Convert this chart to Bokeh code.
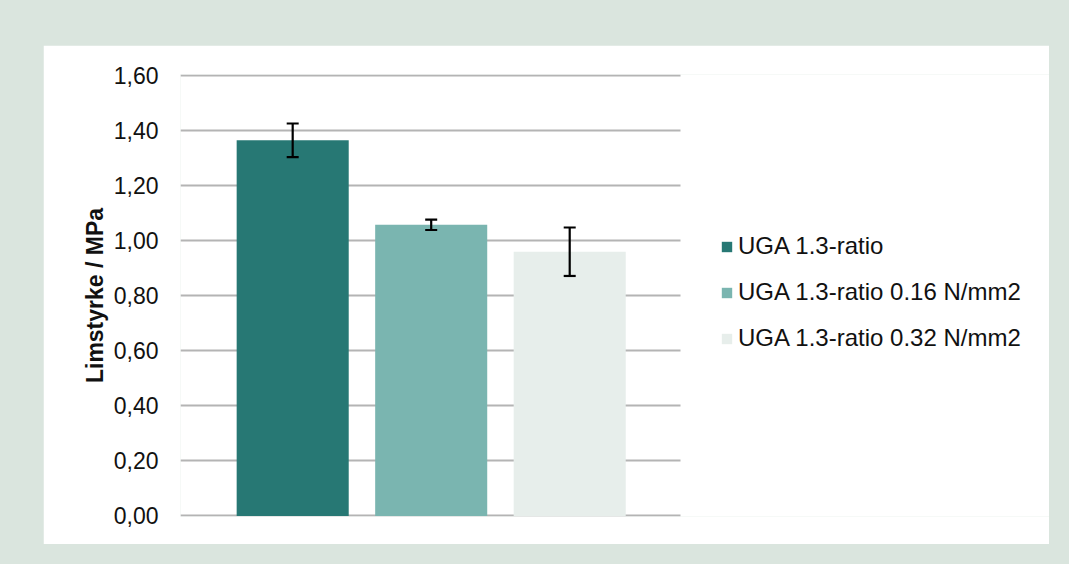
from bokeh.plotting import figure
from bokeh.models import (ColumnDataSource, Range1d, FixedTicker, CustomJSTickFormatter,
                          Whisker, TeeHead, Legend, LegendItem)
from bokeh.layouts import column
from bokeh.embed import file_html
from bokeh.resources import INLINE

# ---- data ----
series = ["UGA 1.3-ratio", "UGA 1.3-ratio 0.16 N/mm2", "UGA 1.3-ratio 0.32 N/mm2"]
values = [1.365, 1.058, 0.960]
errors = [0.061, 0.019, 0.088]
colors = ["#277874", "#7ab5b0", "#e7eeeb"]
y_ticks = [0.0, 0.2, 0.4, 0.6, 0.8, 1.0, 1.2, 1.4, 1.6]
y_label = "Limstyrke / MPa"

FONT = "Liberation Sans"

src = ColumnDataSource(dict(
    x=list(range(len(series))),
    top=values,
    upper=[v + e for v, e in zip(values, errors)],
    lower=[v - e for v, e in zip(values, errors)],
    name=series,
    color=colors,
))

# plot area spans the bars' region (X0 .. X1); the frame extends right to hold the legend
X0, X1, XEND = -0.81, 2.80, 5.464

p = figure(width=1006, height=499, output_backend="svg", toolbar_location=None,
           x_range=Range1d(X0, XEND), y_range=Range1d(-0.002, 1.604),
           min_border_left=137, min_border_right=0, min_border_top=29, min_border_bottom=28)
p.background_fill_color = "white"
p.border_fill_color = "white"
p.outline_line_color = None

r = p.vbar(x="x", top="top", width=0.809, bottom=0, source=src,
           fill_color="color", line_color=None)

w = Whisker(source=src, base="x", upper="upper", lower="lower",
            line_color="black", line_width=2.2, level="overlay",
            upper_head=TeeHead(size=12, line_width=2.2, line_color="black"),
            lower_head=TeeHead(size=12, line_width=2.2, line_color="black"))
p.add_layout(w)

p.xaxis.visible = False
p.xgrid.grid_line_color = None
p.ygrid.grid_line_color = "#b4b4b4"
p.ygrid.grid_line_width = 2
p.ygrid.cross_bounds = (X0, X1)
p.yaxis.ticker = FixedTicker(ticks=y_ticks)
p.yaxis.formatter = CustomJSTickFormatter(code="return tick.toFixed(2).replace('.', ',');")
p.yaxis.axis_line_color = None
p.yaxis.major_tick_line_color = None
p.yaxis.minor_tick_line_color = None
p.yaxis.major_label_text_font = FONT
p.yaxis.major_label_text_font_size = "23px"
p.yaxis.major_label_text_color = "#111111"
p.yaxis.major_label_standoff = 16
p.yaxis.axis_label = y_label
p.yaxis.axis_label_text_font = FONT
p.yaxis.axis_label_text_font_size = "23px"
p.yaxis.axis_label_text_font_style = "bold"
p.yaxis.axis_label_text_color = "#111111"
p.yaxis.axis_label_standoff = 3

items = [LegendItem(label=series[i], renderers=[r], index=i) for i in range(len(series))]
legend = Legend(items=items, location=(540, 164))
legend.padding = 0
legend.margin = 0
legend.border_line_alpha = 0
legend.background_fill_alpha = 0
legend.glyph_width = 13
legend.glyph_height = 13
legend.label_height = 26
legend.label_standoff = 5
legend.spacing = 18
legend.label_text_font = FONT
legend.label_text_font_size = "24px"
legend.label_text_color = "#111111"
p.add_layout(legend, "center")

layout = column(p, styles={"background-color": "#dae5de", "padding": "45px 20px 20px 43px"})

open("out.html", "w").write(file_html(layout, INLINE))
